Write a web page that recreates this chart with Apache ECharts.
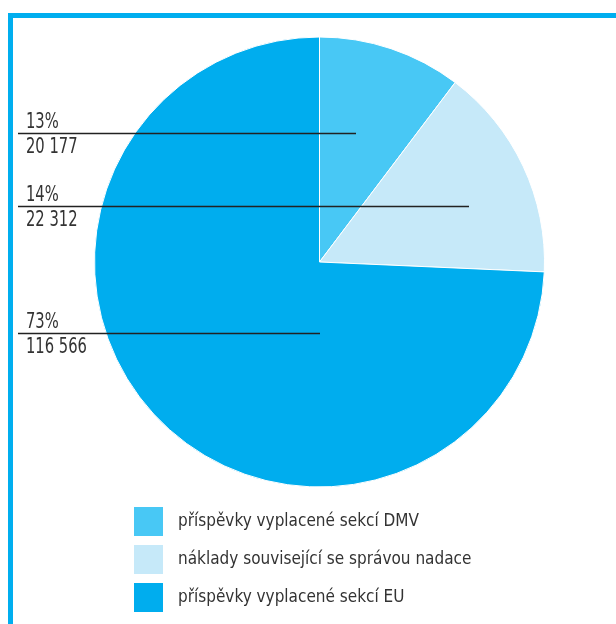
<!DOCTYPE html>
<html>
<head>
<meta charset="utf-8">
<script src="https://cdn.jsdelivr.net/npm/echarts@6/dist/echarts.min.js"></script>
<style>
html,body{margin:0;padding:0;background:#fff;}
#chart{width:616px;height:624px;}
</style>
</head>
<body>
<div id="chart"></div>
<script>
// Categories (legend order)
const categories = [
  'příspěvky vyplacené sekcí DMV',
  'náklady související se správou nadace',
  'příspěvky vyplacené sekcí EU'
];
const sliceShares = [10.3, 15.4, 74.3];
// Printed label values
const percentLabels = ['13%', '14%', '73%'];
const amountLabels = ['20 177', '22 312', '116 566'];
const colors = ['#48C8F5', '#C6E9F9', '#00ADEE'];

const FONT = "'DejaVu Sans Condensed', 'Liberation Sans Narrow', sans-serif";
const TEXT = '#333333';

// annotation layout (label rows at left, leader line to inside the pie)
const rowLineY = [133.5, 206.5, 333.5];
const rowLineEnd = [356, 469, 320];

const chart = echarts.init(document.getElementById('chart'), null, {renderer: 'canvas'});

const graphics = [
  {type: 'rect', shape: {x: 8, y: 13, width: 608, height: 5}, style: {fill: '#00AEEF'}, z: 10},
  {type: 'rect', shape: {x: 8, y: 13, width: 5, height: 611}, style: {fill: '#00AEEF'}, z: 10}
];
percentLabels.forEach((p, i) => {
  const y = rowLineY[i];
  graphics.push({
    type: 'line', shape: {x1: 18, y1: y, x2: rowLineEnd[i], y2: y},
    style: {stroke: '#222', lineWidth: 1.4}, z: 20
  });
  graphics.push({
    type: 'text', x: 26, y: y - 11, scaleX: 0.78,
    style: {text: p, font: '21px ' + FONT, fill: TEXT, verticalAlign: 'middle'}, z: 20
  });
  graphics.push({
    type: 'text', x: 26, y: y + 14, scaleX: 0.78,
    style: {text: amountLabels[i], font: '21px ' + FONT, fill: TEXT, verticalAlign: 'middle'}, z: 20
  });
});

chart.setOption({
  animation: false,
  color: colors,
  legend: {
    orient: 'vertical',
    left: 132, top: 505,
    padding: 0,
    itemWidth: 31, itemHeight: 31, itemGap: 5,
    icon: 'rect',
    selectedMode: false,
    textStyle: {fontFamily: FONT, fontSize: 17, color: TEXT, padding: [0, 0, 0, 9]},
    data: categories
  },
  series: [{
    type: 'pie',
    center: [319.5, 262],
    radius: 225,
    startAngle: 90,
    clockwise: true,
    silent: true,
    label: {show: false},
    labelLine: {show: false},
    itemStyle: {borderColor: '#ffffff', borderWidth: 1},
    data: categories.map((c, i) => ({name: c, value: sliceShares[i]}))
  }],
  graphic: graphics
});
</script>
</body>
</html>
